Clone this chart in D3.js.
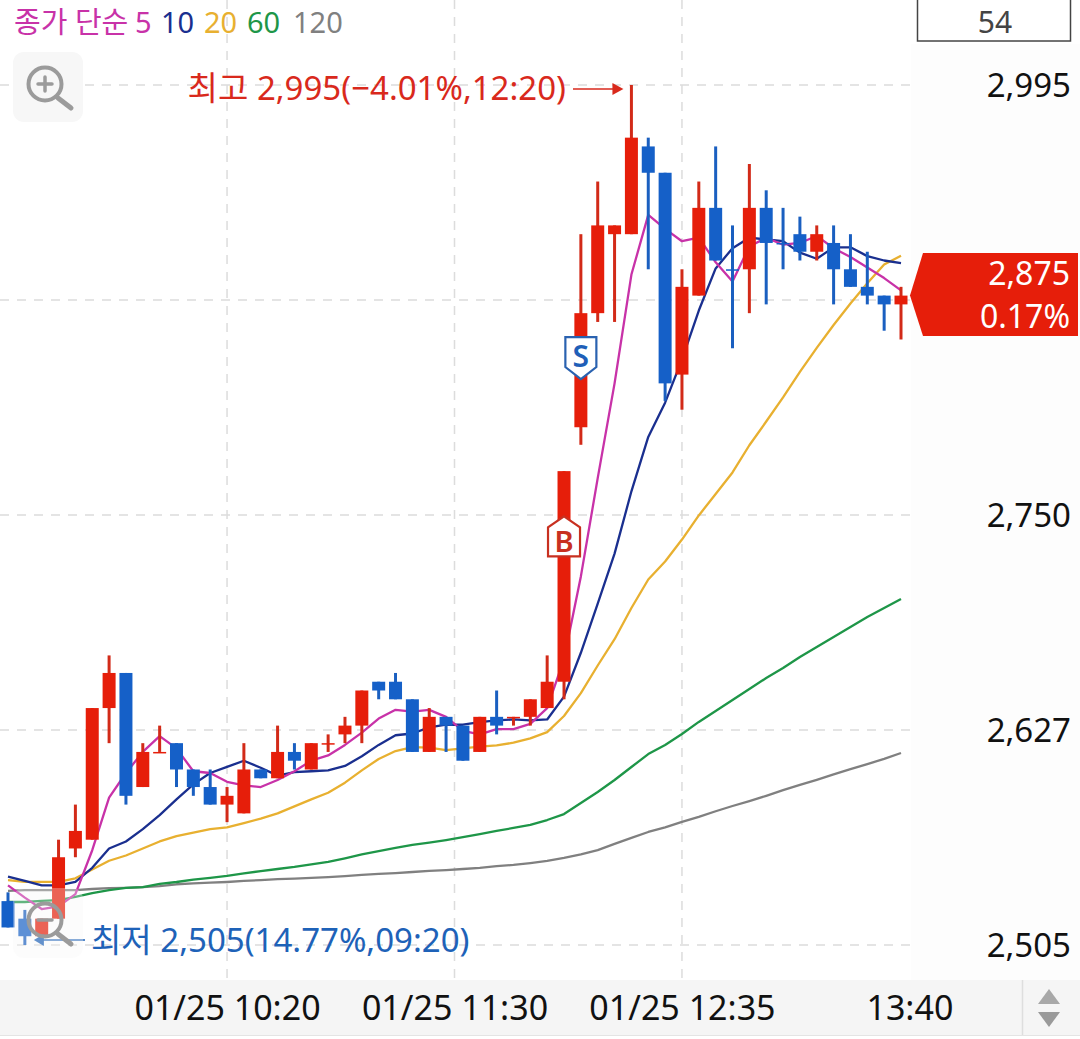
<!DOCTYPE html>
<html lang="ko">
<head>
<meta charset="utf-8">
<title>종가 단순 이동평균 분봉 차트</title>
<script src="https://cdn.jsdelivr.net/npm/d3@7/dist/d3.min.js"></script>
<style>
  html, body { margin: 0; padding: 0; background: #fff; }
  svg { display: block; }
  text { font-family: "Noto Sans", "Noto Sans CJK KR", sans-serif; }
</style>
</head>
<body>
<svg id="chart" width="1080" height="1039"></svg>
<script>
// Candle prices, in won, oldest first
const open = [2530,2520,2510,2520,2560,2565,2640,2660,2595,2615,2620,2605,2595,2585,2580,2605,2600,2615,2605,2620,2625,2630,2655,2655,2645,2615,2635,2630,2615,2635,2635,2635,2640,2655,2800,2865,2910,2910,2960,2945,2830,2875,2925,2890,2890,2925,2905,2910,2900,2905,2890,2880,2875,2870];
const high = [2535,2525,2520,2565,2585,2640,2670,2660,2620,2630,2620,2605,2605,2595,2620,2605,2630,2620,2620,2625,2635,2650,2655,2660,2645,2640,2635,2630,2635,2650,2635,2645,2670,2775,2910,2940,2915,2995,2965,2945,2890,2940,2960,2915,2950,2935,2925,2920,2915,2915,2910,2900,2875,2880];
const low = [2515,2505,2510,2520,2555,2565,2620,2585,2595,2615,2595,2590,2585,2575,2580,2600,2600,2605,2605,2615,2620,2620,2645,2645,2615,2615,2615,2610,2615,2625,2630,2630,2640,2645,2790,2860,2860,2910,2890,2815,2810,2875,2895,2845,2865,2870,2890,2895,2895,2870,2880,2870,2855,2850];
const close = [2515,2510,2520,2555,2570,2640,2660,2590,2615,2615,2605,2595,2585,2590,2605,2600,2615,2610,2620,2620,2630,2650,2650,2645,2615,2635,2630,2610,2635,2630,2635,2645,2655,2775,2865,2915,2915,2965,2945,2825,2880,2925,2895,2890,2925,2905,2905,2900,2910,2890,2880,2875,2870,2875];
// Candles that opened and closed level but still count as falling
const fallingDoji = [43, 46];

// Moving averages of the close
const ma5 = [2539,2532,2525.5,2527,2534,2559,2589,2603,2615,2624,2617,2604,2603,2598,2596,2595,2599,2604,2610,2613,2619,2626,2634,2639,2638,2639,2635,2627,2625,2628,2628,2631,2640,2668,2715,2771,2825,2887,2921,2913,2906,2908,2894,2883,2903,2908,2904,2905,2909,2902,2897,2891,2885,2878];
const ma10 = [2544,2541.5,2539,2539,2541,2549,2560,2564,2571,2579,2588,2596.5,2603,2606.5,2610,2606,2601.5,2603.5,2604,2604.5,2607,2612.5,2619,2624.5,2625.5,2629,2630.5,2630.5,2632,2633,2633.5,2633,2633.5,2646.5,2671.5,2699.5,2728,2763.5,2794.5,2814,2838.5,2866.5,2890.5,2902,2908,2907,2906,2899.5,2896,2902.5,2902.5,2897.5,2895,2893.5];
const ma20 = [2542,2541,2541,2541,2543,2548,2553,2556,2560,2564,2567,2569,2571,2572,2574.5,2577,2580,2584,2588,2591.75,2597.5,2604.5,2611,2615.5,2617.75,2617.5,2616,2617,2618,2618.75,2620.25,2622.75,2626.25,2635.5,2648.5,2664.25,2679.25,2697,2713.25,2723.5,2736,2749.75,2762,2774.25,2789.75,2803.25,2817,2831.5,2845.25,2858.25,2870.5,2882,2892.75,2897.75];
const ma60 = [2529.5,2529.5,2530.1,2530.6,2532.4,2534.6,2536.3,2537.5,2538,2539.8,2540.9,2542.3,2543.3,2544.4,2545.8,2547.1,2548.3,2549.5,2551,2552.4,2554.4,2556.6,2558.5,2560.3,2562,2563.3,2564.8,2566.5,2568.2,2570,2571.7,2573.4,2576.2,2579.6,2585.9,2592.2,2599,2606.4,2613.8,2619,2625.2,2632.1,2638.3,2644.6,2650.9,2657.1,2662.8,2669.1,2674.8,2680.5,2686.2,2691.9,2697,2702.2];
const ma120 = [2535.8,2536.3,2536.3,2536.3,2536.3,2536.9,2537.4,2537.6,2538,2538.6,2539.6,2540.1,2540.5,2540.9,2541.5,2542,2542.5,2542.8,2543.2,2543.7,2544.3,2544.9,2545.5,2546,2546.6,2547.2,2547.7,2548.3,2548.9,2549.9,2550.6,2551.7,2552.9,2554.6,2556.7,2559.1,2562.6,2566,2569.4,2572,2575.1,2578,2581.2,2584.2,2587,2590,2593.2,2596.2,2599.1,2602.2,2605.2,2608.1,2611,2614.4];

// Legend entries, axis ticks and annotations
const legendTitle = "종가 단순";
const periods = ["5", "10", "20", "60", "120"];
const priceTicks = [2995, 2750, 2627.5, 2505];
const gridPrices = [2995, 2872.5, 2750, 2627.5, 2505];
const timeTickIndex = [13, 26.5, 40, 53.5];
const timeTickLabels = ["01/25 10:20", "01/25 11:30", "01/25 12:35", "13:40"];
const gridTimeIndex = [13, 26.5, 40];
const candleCount = "54";
const lastPrice = 2875;
const lastChange = "0.17%";
const highNote = "최고 2,995(−4.01%,12:20)";
const lowNote = "최저 2,505(14.77%,09:20)";
const highPrice = 2995, highIndex = 37;
const lowPrice = 2505, lowIndex = 1;
const buyIndex = 33, buyPrice = 2735;
const sellIndex = 34, sellPrice = 2840;

const RED = "#e61e0a", BLUE = "#1560c8";
const RED_WICK = "#d22a18", BLUE_WICK = "#1a5fc0";
const lineColors = ["#c832a8", "#1a2f8f", "#e8b030", "#1e9648", "#808080"];

const svg = d3.select("#chart");
const x = d3.scaleLinear().domain([0, 53]).range([8, 901]);
const y = d3.scaleLinear().domain([2505, 2995]).range([945, 85]);

// Price panel and time bar backgrounds
svg.append("rect").attr("x", 911).attr("y", 44).attr("width", 169).attr("height", 936).attr("fill", "#fdfdfd");
svg.append("rect").attr("x", 0).attr("y", 980).attr("width", 1080).attr("height", 55).attr("fill", "#f5f5f5");
svg.append("line").attr("x1", 0).attr("x2", 1080).attr("y1", 1035.5).attr("y2", 1035.5).attr("stroke", "#e4e4e4");
svg.append("line").attr("x1", 1022.5).attr("x2", 1022.5).attr("y1", 980).attr("y2", 1035).attr("stroke", "#dedede").attr("stroke-width", 1.5);

// Dashed grid
const grid = svg.append("g").attr("stroke", "#dcdcdc").attr("stroke-width", 1.5).attr("stroke-dasharray", "9 8");
grid.selectAll("line.h").data(gridPrices).join("line").attr("class", "h")
  .attr("x1", 0).attr("x2", 911).attr("y1", d => y(d)).attr("y2", d => y(d));
grid.selectAll("line.v").data(gridTimeIndex).join("line").attr("class", "v")
  .attr("x1", d => x(d)).attr("x2", d => x(d)).attr("y1", 0).attr("y2", 980);

// Moving average lines sit under the candles
const averages = [ma120, ma60, ma20, ma10, ma5];
const averageColors = [lineColors[4], lineColors[3], lineColors[2], lineColors[1], lineColors[0]];
const path = d3.line().x((d, i) => x(i)).y(d => y(d));
svg.append("g").attr("fill", "none").attr("stroke-width", 2.3).attr("stroke-linejoin", "round")
  .selectAll("path").data(averages).join("path")
  .attr("d", path).attr("stroke", (d, i) => averageColors[i]);

// Candles
const isUp = i => close[i] > open[i] || (close[i] === open[i] && !fallingDoji.includes(i));
const candles = svg.append("g").selectAll("g").data(d3.range(close.length)).join("g");
candles.append("line")
  .attr("x1", i => x(i)).attr("x2", i => x(i))
  .attr("y1", i => y(high[i])).attr("y2", i => y(low[i]))
  .attr("stroke-width", 3)
  .attr("stroke", i => isUp(i) ? RED_WICK : BLUE_WICK);
candles.append("rect")
  .attr("x", i => x(i) - 6.5).attr("width", 13)
  .attr("y", i => y(Math.max(open[i], close[i])))
  .attr("height", i => Math.max(1.5, Math.abs(y(open[i]) - y(close[i]))))
  .attr("fill", i => isUp(i) ? RED : BLUE);

// Buy and sell markers
const bx = x(buyIndex), by = y(buyPrice);
svg.append("path")
  .attr("d", `M${bx},${by - 25} L${bx + 16},${by - 14} V${by + 15} H${bx - 16} V${by - 14} Z`)
  .attr("fill", "#fff").attr("stroke", "#c83020").attr("stroke-width", 2.2);
svg.append("text").attr("x", bx).attr("y", by + 10.5).attr("text-anchor", "middle")
  .attr("font-size", 29).attr("font-weight", 600).attr("fill", "#c83020").text("B");
const sx = x(sellIndex), sy = y(sellPrice);
svg.append("path")
  .attr("d", `M${sx - 15.5},${sy - 20} H${sx + 15.5} V${sy + 10} L${sx},${sy + 22} L${sx - 15.5},${sy + 10} Z`)
  .attr("fill", "#fff").attr("stroke", "#2a62b0").attr("stroke-width", 2.2);
svg.append("text").attr("x", sx).attr("y", sy + 10).attr("text-anchor", "middle")
  .attr("font-size", 30).attr("font-weight", 600).attr("fill", "#1f5fb8").text("S");

// High and low call-outs
const hy = y(highPrice) + 4;
svg.append("line").attr("x1", 573).attr("x2", x(highIndex) - 18).attr("y1", hy).attr("y2", hy).attr("stroke", "#d9291c").attr("stroke-width", 1.5);
svg.append("path").attr("d", `M${x(highIndex) - 8},${hy} l-11,-6 v12 Z`).attr("fill", "#d9291c");
svg.append("text").attr("x", 566).attr("y", 100).attr("text-anchor", "end")
  .attr("font-size", 33).attr("fill", "#d9291c").text(highNote);
const ly = y(lowPrice) - 5;
svg.append("line").attr("x1", x(lowIndex) + 16).attr("x2", 85).attr("y1", ly).attr("y2", ly).attr("stroke", "#1e62b8").attr("stroke-width", 1.5);
svg.append("path").attr("d", `M${x(lowIndex) + 9},${ly} l10,-6 v12 Z`).attr("fill", "#1e62b8");
svg.append("text").attr("x", 91).attr("y", 952)
  .attr("font-size", 33).attr("fill", "#1e62b8").text(lowNote);

// Magnifier buttons
function zoomButton(bxLeft, byTop, plus, veil) {
  const g = svg.append("g").attr("transform", `translate(${bxLeft},${byTop})`);
  g.append("rect").attr("width", 70).attr("height", 70).attr("rx", 11)
    .attr("fill", veil ? "rgba(247,247,247,0.32)" : "#f7f7f7");
  const icon = g.append("g").attr("fill", "none").attr("stroke", "#9b9b9b").attr("stroke-linecap", "round");
  icon.append("circle").attr("cx", 32).attr("cy", 32).attr("r", 16.5).attr("stroke-width", 4);
  icon.append("line").attr("x1", 45).attr("y1", 46).attr("x2", 58).attr("y2", 56).attr("stroke-width", 5);
  icon.append("line").attr("x1", 25).attr("x2", 39).attr("y1", 32).attr("y2", 32).attr("stroke-width", 3.5);
  if (plus) icon.append("line").attr("x1", 32).attr("x2", 32).attr("y1", 25).attr("y2", 39).attr("stroke-width", 3.5);
}
zoomButton(13, 52, true, false);
zoomButton(13, 888, false, true);

// Legend
svg.append("text").attr("x", 14).attr("y", 33)
  .attr("font-size", 29).attr("fill", lineColors[0]).text(legendTitle);
const legendX = [135, 161, 204, 247, 293];
svg.append("g").selectAll("text").data(periods).join("text")
  .attr("x", (d, i) => legendX[i]).attr("y", 33).attr("font-size", 29)
  .attr("fill", (d, i) => lineColors[i]).text(d => d);

// Candle count box
svg.append("rect").attr("x", 917.5).attr("y", -2).attr("width", 153).attr("height", 43)
  .attr("fill", "#fff").attr("stroke", "#444").attr("stroke-width", 1.5);
svg.append("text").attr("x", 995).attr("y", 32.5).attr("text-anchor", "middle")
  .attr("font-size", 30).attr("fill", "#444").text(candleCount);

// Price axis
const yAxis = svg.append("g").attr("transform", "translate(1071,0)")
  .call(d3.axisRight(y).tickValues(priceTicks).tickSize(0).tickFormat(d => d3.format(",")(Math.floor(d))));
yAxis.select(".domain").remove();
yAxis.selectAll("text").attr("x", 0).attr("dy", 11.5).attr("text-anchor", "end")
  .attr("font-size", 33).attr("font-family", '"Noto Sans", sans-serif').attr("fill", "#111");

// Time axis
const xAxis = svg.append("g").attr("transform", "translate(0,980)")
  .call(d3.axisBottom(x).tickValues(timeTickIndex).tickSize(0).tickFormat((d, i) => timeTickLabels[i]));
xAxis.select(".domain").remove();
xAxis.selectAll("text").attr("y", 0).attr("dy", 40).attr("text-anchor", "middle")
  .attr("font-size", 34).attr("font-family", '"Noto Sans", sans-serif').attr("fill", "#111");

// Scroll arrows
svg.append("path").attr("d", "M1049,989 L1060,1004 H1038 Z").attr("fill", "#a8a8a8");
svg.append("path").attr("d", "M1049,1027 L1060,1012 H1038 Z").attr("fill", "#9a9a9a");

// Last price tag
const ty = y(lastPrice);
svg.append("path")
  .attr("d", `M910,${ty} L923,253 H1078 V336 H923 Z`).attr("fill", "#e61e0a");
svg.append("text").attr("x", 1070).attr("y", 285).attr("text-anchor", "end")
  .attr("font-size", 32).attr("fill", "#fff").text(d3.format(",")(lastPrice));
svg.append("text").attr("x", 1070).attr("y", 328).attr("text-anchor", "end")
  .attr("font-size", 32).attr("fill", "#fff").text(lastChange);
</script>
</body>
</html>
